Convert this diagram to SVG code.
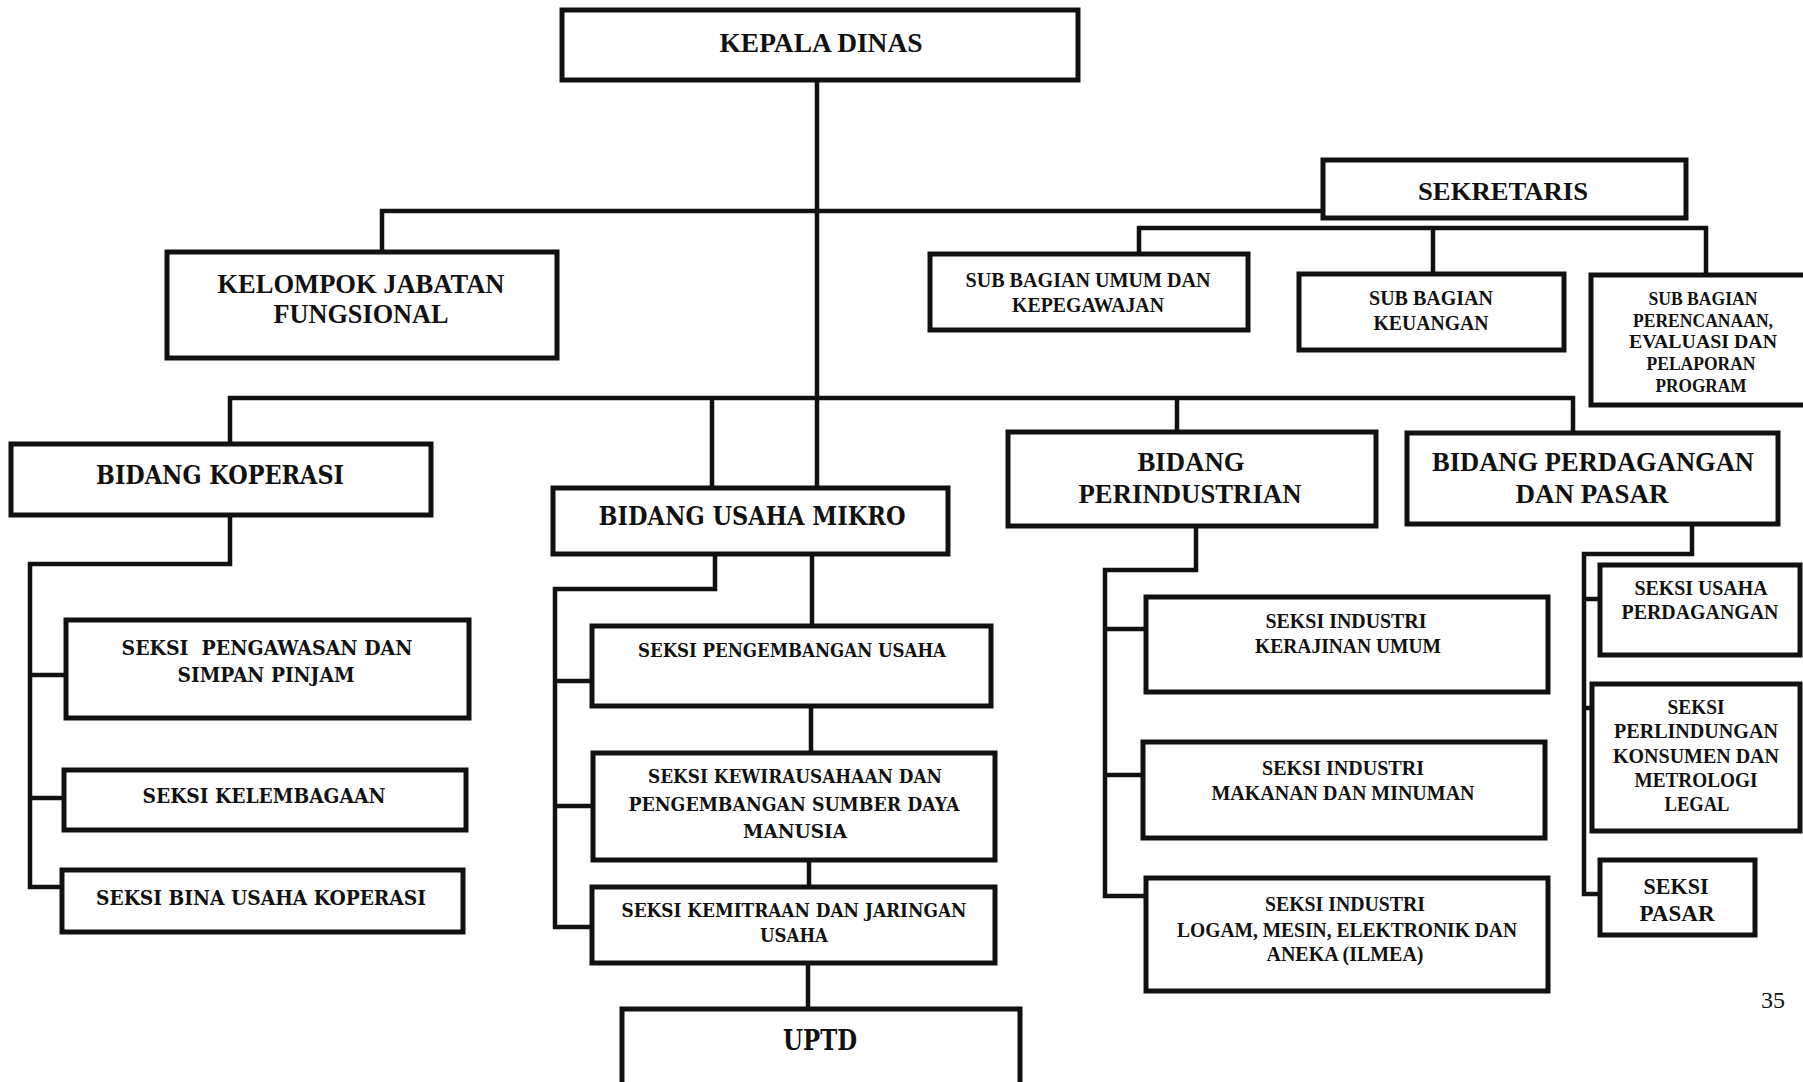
<svg xmlns="http://www.w3.org/2000/svg" width="1803" height="1082" viewBox="0 0 1803 1082">
<style>
.box{fill:#fff;stroke:#111;stroke-width:5}
.ln{fill:none;stroke:#111;stroke-width:4.5;stroke-linejoin:miter;stroke-linecap:square}
.c{font-family:"Liberation Serif","DejaVu Serif",serif;font-weight:bold;fill:#111;text-anchor:middle;lengthAdjust:spacingAndGlyphs}
.w{font-family:"DejaVu Serif","Liberation Serif",serif;font-weight:bold;fill:#111;text-anchor:middle}
</style>
<rect width="1803" height="1082" fill="#fff"/>
<g id="connectors">
<path class="ln" d="M817,80 V488"/>
<path class="ln" d="M382,252 V211 H1323"/>
<path class="ln" d="M1139,254 V228 H1706 V275 M1433,228 V274"/>
<path class="ln" d="M230,444 V398 H1573 V433 M712,398 V488 M1177,398 V432"/>
<path class="ln" d="M230,515 V564 H30 V887 H62 M30,675 H66 M30,798 H64"/>
<path class="ln" d="M715,554 V589 H555 V927 H592 M555,681 H592 M555,806 H593"/>
<path class="ln" d="M812,554 V626 M811,706 V753 M809,860 V887 M808,963 V1009"/>
<path class="ln" d="M1196,526 V570 H1105 V896 H1146 M1105,629 H1146 M1105,775 H1143"/>
<path class="ln" d="M1692,524 V554 H1584 V894 H1600 M1584,599 H1600 M1584,708 H1592"/>
</g>
<g id="kepala-dinas"><rect class="box" x="562" y="10" width="516" height="70"/>
<text class="c" x="821" y="52" font-size="28" textLength="203" lengthAdjust="spacingAndGlyphs">KEPALA DINAS</text></g>
<g id="sekretaris"><rect class="box" x="1323" y="160" width="363" height="58"/>
<text class="c" x="1503" y="200" font-size="26" textLength="170" lengthAdjust="spacingAndGlyphs">SEKRETARIS</text></g>
<g id="kelompok-jabatan"><rect class="box" x="167" y="252" width="390" height="106"/>
<text class="c" x="361" y="293" font-size="28" textLength="287" lengthAdjust="spacingAndGlyphs">KELOMPOK JABATAN</text>
<text class="c" x="361" y="323" font-size="28" textLength="175" lengthAdjust="spacingAndGlyphs">FUNGSIONAL</text></g>
<g id="sub-umum"><rect class="box" x="930" y="254" width="318" height="76"/>
<text class="c" x="1088" y="287" font-size="21" textLength="245" lengthAdjust="spacingAndGlyphs">SUB BAGIAN UMUM DAN</text>
<text class="c" x="1088" y="312" font-size="21" textLength="152" lengthAdjust="spacingAndGlyphs">KEPEGAWAJAN</text></g>
<g id="sub-keuangan"><rect class="box" x="1299" y="274" width="265" height="76"/>
<text class="c" x="1431" y="305" font-size="21" textLength="124" lengthAdjust="spacingAndGlyphs">SUB BAGIAN</text>
<text class="c" x="1431" y="330" font-size="21" textLength="115" lengthAdjust="spacingAndGlyphs">KEUANGAN</text></g>
<g id="sub-perencanaan"><rect class="box" x="1591" y="275" width="230" height="130"/>
<text class="c" x="1703" y="305" font-size="19" textLength="109" lengthAdjust="spacingAndGlyphs">SUB BAGIAN</text>
<text class="c" x="1703" y="327" font-size="19" textLength="140" lengthAdjust="spacingAndGlyphs">PERENCANAAN,</text>
<text class="c" x="1703" y="348" font-size="19" textLength="148" lengthAdjust="spacingAndGlyphs">EVALUASI DAN</text>
<text class="c" x="1701" y="370" font-size="19" textLength="109" lengthAdjust="spacingAndGlyphs">PELAPORAN</text>
<text class="c" x="1701" y="392" font-size="19" textLength="91" lengthAdjust="spacingAndGlyphs">PROGRAM</text></g>
<g id="bidang-koperasi"><rect class="box" x="11" y="444" width="420" height="71"/>
<text class="w" x="220" y="484" font-size="26" textLength="248" lengthAdjust="spacingAndGlyphs">BIDANG KOPERASI</text></g>
<g id="bidang-usaha-mikro"><rect class="box" x="553" y="488" width="395" height="66"/>
<text class="w" x="752" y="525" font-size="26" textLength="307" lengthAdjust="spacingAndGlyphs">BIDANG USAHA MIKRO</text></g>
<g id="bidang-perindustrian"><rect class="box" x="1008" y="432" width="368" height="94"/>
<text class="c" x="1191" y="471" font-size="28" textLength="107" lengthAdjust="spacingAndGlyphs">BIDANG</text>
<text class="c" x="1190" y="503" font-size="28" textLength="223" lengthAdjust="spacingAndGlyphs">PERINDUSTRIAN</text></g>
<g id="bidang-perdagangan"><rect class="box" x="1407" y="433" width="371" height="91"/>
<text class="c" x="1593" y="471" font-size="28" textLength="322" lengthAdjust="spacingAndGlyphs">BIDANG PERDAGANGAN</text>
<text class="c" x="1592" y="503" font-size="28" textLength="153" lengthAdjust="spacingAndGlyphs">DAN PASAR</text></g>
<g id="seksi-pengawasan"><rect class="box" x="66" y="620" width="403" height="98"/>
<text class="w" x="267" y="655" font-size="21" textLength="291" lengthAdjust="spacingAndGlyphs" xml:space="preserve">SEKSI  PENGAWASAN DAN</text>
<text class="w" x="266" y="682" font-size="21" textLength="177" lengthAdjust="spacingAndGlyphs">SIMPAN PINJAM</text></g>
<g id="seksi-kelembagaan"><rect class="box" x="64" y="770" width="402" height="60"/>
<text class="w" x="264" y="803" font-size="21" textLength="243" lengthAdjust="spacingAndGlyphs">SEKSI KELEMBAGAAN</text></g>
<g id="seksi-bina-usaha"><rect class="box" x="62" y="870" width="401" height="62"/>
<text class="w" x="261" y="905" font-size="21" textLength="330" lengthAdjust="spacingAndGlyphs">SEKSI BINA USAHA KOPERASI</text></g>
<g id="seksi-pengembangan-usaha"><rect class="box" x="592" y="626" width="399" height="80"/>
<text class="w" x="792" y="657" font-size="18" textLength="308" lengthAdjust="spacingAndGlyphs">SEKSI PENGEMBANGAN USAHA</text></g>
<g id="seksi-kewirausahaan"><rect class="box" x="593" y="753" width="402" height="107"/>
<text class="w" x="795" y="783" font-size="19" textLength="294" lengthAdjust="spacingAndGlyphs">SEKSI KEWIRAUSAHAAN DAN</text>
<text class="w" x="794" y="811" font-size="19" textLength="331" lengthAdjust="spacingAndGlyphs">PENGEMBANGAN SUMBER DAYA</text>
<text class="w" x="795" y="838" font-size="19" textLength="104" lengthAdjust="spacingAndGlyphs">MANUSIA</text></g>
<g id="seksi-kemitraan"><rect class="box" x="592" y="887" width="403" height="76"/>
<text class="w" x="794" y="917" font-size="19" textLength="345" lengthAdjust="spacingAndGlyphs">SEKSI KEMITRAAN DAN JARINGAN</text>
<text class="w" x="794" y="942" font-size="19" textLength="68" lengthAdjust="spacingAndGlyphs">USAHA</text></g>
<g id="uptd"><rect class="box" x="622" y="1009" width="398" height="80"/>
<text class="w" x="820" y="1050" font-size="28" textLength="74" lengthAdjust="spacingAndGlyphs">UPTD</text></g>
<g id="seksi-kerajinan"><rect class="box" x="1146" y="597" width="402" height="95"/>
<text class="c" x="1346" y="628" font-size="21" textLength="161" lengthAdjust="spacingAndGlyphs">SEKSI INDUSTRI</text>
<text class="c" x="1348" y="653" font-size="21" textLength="186" lengthAdjust="spacingAndGlyphs">KERAJINAN UMUM</text></g>
<g id="seksi-makanan"><rect class="box" x="1143" y="742" width="402" height="96"/>
<text class="c" x="1343" y="775" font-size="21" textLength="162" lengthAdjust="spacingAndGlyphs">SEKSI INDUSTRI</text>
<text class="c" x="1343" y="800" font-size="21" textLength="263" lengthAdjust="spacingAndGlyphs">MAKANAN DAN MINUMAN</text></g>
<g id="seksi-ilmea"><rect class="box" x="1146" y="878" width="402" height="113"/>
<text class="c" x="1345" y="911" font-size="21" textLength="160" lengthAdjust="spacingAndGlyphs">SEKSI INDUSTRI</text>
<text class="c" x="1347" y="937" font-size="21" textLength="340" lengthAdjust="spacingAndGlyphs">LOGAM, MESIN, ELEKTRONIK DAN</text>
<text class="c" x="1345" y="961" font-size="21" textLength="157" lengthAdjust="spacingAndGlyphs">ANEKA (ILMEA)</text></g>
<g id="seksi-usaha-perdagangan"><rect class="box" x="1600" y="565" width="200" height="90"/>
<text class="c" x="1701" y="595" font-size="20" textLength="133" lengthAdjust="spacingAndGlyphs">SEKSI USAHA</text>
<text class="c" x="1700" y="619" font-size="20" textLength="157" lengthAdjust="spacingAndGlyphs">PERDAGANGAN</text></g>
<g id="seksi-perlindungan"><rect class="box" x="1592" y="684" width="208" height="147"/>
<text class="c" x="1696" y="714" font-size="20" textLength="57" lengthAdjust="spacingAndGlyphs">SEKSI</text>
<text class="c" x="1696" y="738" font-size="20" textLength="164" lengthAdjust="spacingAndGlyphs">PERLINDUNGAN</text>
<text class="c" x="1696" y="763" font-size="20" textLength="166" lengthAdjust="spacingAndGlyphs">KONSUMEN DAN</text>
<text class="c" x="1696" y="787" font-size="20" textLength="123" lengthAdjust="spacingAndGlyphs">METROLOGI</text>
<text class="c" x="1697" y="811" font-size="20" textLength="65" lengthAdjust="spacingAndGlyphs">LEGAL</text></g>
<g id="seksi-pasar"><rect class="box" x="1600" y="860" width="155" height="75"/>
<text class="c" x="1676" y="894" font-size="23" textLength="65" lengthAdjust="spacingAndGlyphs">SEKSI</text>
<text class="c" x="1677" y="921" font-size="23" textLength="75" lengthAdjust="spacingAndGlyphs">PASAR</text></g>
<text x="1773" y="1008" font-family="Liberation Serif, serif" font-size="24" text-anchor="middle" fill="#111">35</text>
</svg>
